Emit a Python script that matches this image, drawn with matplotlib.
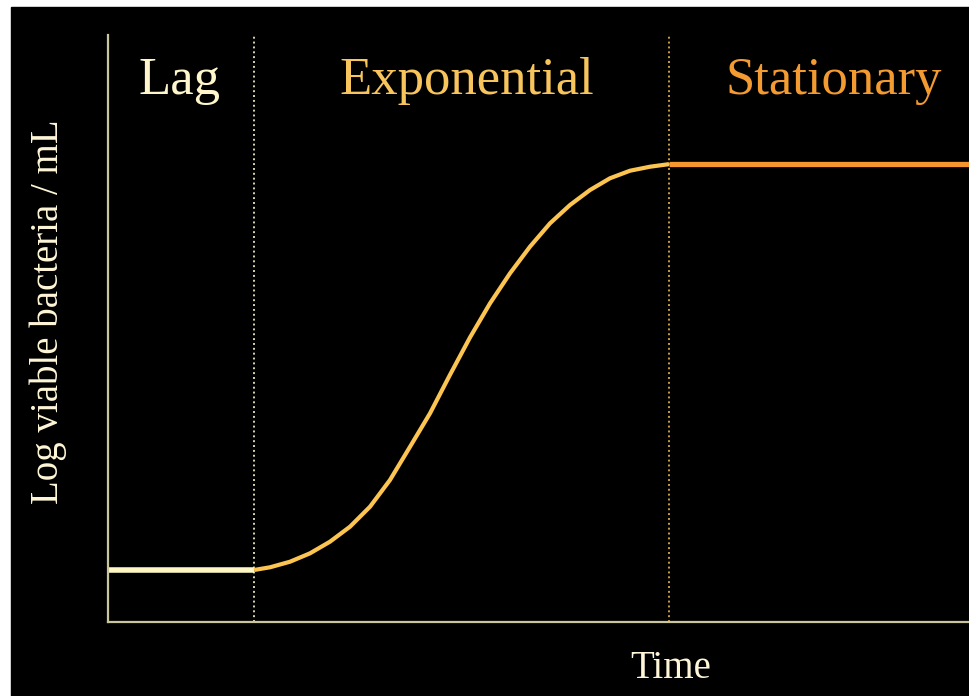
"""Bacterial growth curve: lag, exponential and stationary phases."""

import matplotlib

matplotlib.use("Agg")
import matplotlib.pyplot as plt  # noqa: E402
from matplotlib.patches import Rectangle  # noqa: E402

# phase boundaries (time units) and levels (log viable bacteria / mL)
lag_end = 1.696
stat_start = 6.516
lag_level = 0.886
stat_level = 7.80

# exponential-phase curve
exp_time = [1.696, 1.882, 2.114, 2.346, 2.578, 2.811, 3.043, 3.275, 3.508,
            3.740, 3.972, 4.204, 4.437, 4.669, 4.901, 5.134, 5.366, 5.598,
            5.830, 6.063, 6.295, 6.516]
exp_level = [0.886, 0.932, 1.027, 1.170, 1.368, 1.624, 1.964, 2.419, 2.986,
             3.555, 4.211, 4.847, 5.429, 5.940, 6.394, 6.792, 7.104, 7.359,
             7.559, 7.688, 7.756, 7.80]

phase_names = ["Lag", "Exponential", "Stationary"]
phase_label_x = [0.836, 4.17, 8.43]
phase_colors = ["#fff6cc", "#f8c45c", "#f39a30"]

W, H = 969, 696
plt.rcParams["font.family"] = ["Liberation Serif", "DejaVu Serif"]

fig = plt.figure(figsize=(W / 100, H / 100), dpi=100, facecolor="white")
fig.add_artist(Rectangle((11 / W, 0), 1 - 11 / W, 1 - 7 / H,
                         transform=fig.transFigure, color="black", zorder=0))

left, right, top, bottom = 108, 969, 35, 622
ax = fig.add_axes([left / W, (H - bottom) / H, (right - left) / W, (bottom - top) / H])
ax.set_facecolor("black")
ax.set_xlim(0, 10)
ax.set_ylim(0, 10)
ax.set_xticks([])
ax.set_yticks([])
for side in ("top", "right"):
    ax.spines[side].set_visible(False)
for side in ("left", "bottom"):
    ax.spines[side].set_color("#c9c59c")
    ax.spines[side].set_linewidth(1.6)

ax.axvline(lag_end, color="#d8d6b0", lw=1.4, ls=(0, (1, 1.5)))
ax.axvline(stat_start, color="#c9a040", lw=1.4, ls=(0, (1, 1.5)))

ax.plot([0, lag_end], [lag_level, lag_level], color="#fff8c4", lw=4.0,
        solid_capstyle="butt")
ax.plot(exp_time, exp_level, color="#fcc451", lw=3.0, solid_capstyle="butt",
        solid_joinstyle="round")
ax.plot([stat_start, 10], [stat_level, stat_level], color="#f6962e", lw=3.8,
        solid_capstyle="butt")

for name, x, c in zip(phase_names, phase_label_x, phase_colors):
    ax.text(x, 9.21, name, color=c, fontsize=38, ha="center", va="center")

fig.text(671 / W, 1 - 669 / H, "Time", color="#fff6d8", fontsize=28,
         ha="center", va="center")
fig.text(48 / W, 1 - 312 / H, "Log viable bacteria / mL", color="#fff6d8",
         fontsize=28, rotation=90, ha="center", va="center")

fig.savefig("out.png", dpi=100, facecolor=fig.get_facecolor())
plt.close(fig)
